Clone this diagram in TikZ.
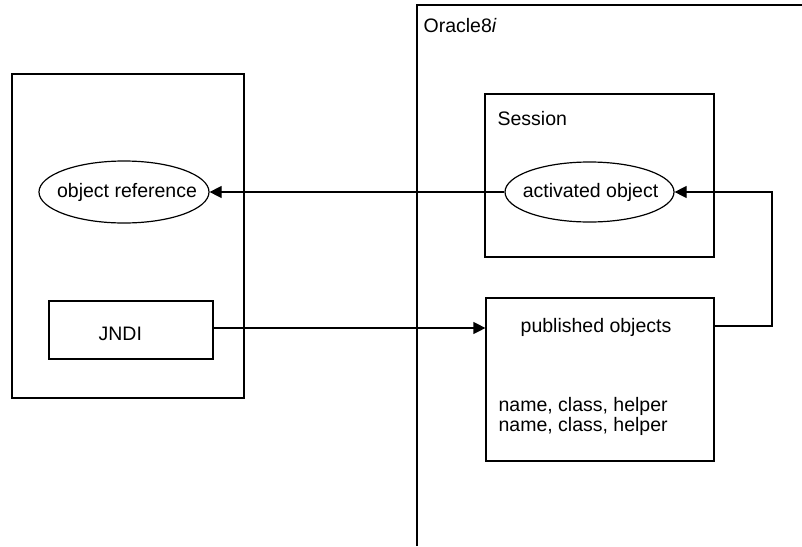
\documentclass[tikz,border=0pt]{standalone}
\usepackage{fontspec}
\setmainfont{Liberation Sans}
\usetikzlibrary{shapes.geometric,arrows.meta}
\begin{document}
\begin{tikzpicture}[x=1pt,y=-1pt,
  line width=1.2pt,
  every node/.style={font=\fontsize{19.5}{20}\selectfont, inner sep=0pt},
  boxx/.style={draw, rectangle},
  ell/.style={draw, ellipse, inner sep=0pt},
  arr/.style={-{Triangle[length=12pt,width=12pt]}}]
\useasboundingbox (0,0) rectangle (802,546);
% Oracle8i container (open on right and bottom)
\coordinate (obl) at (417,546);
\coordinate (otl) at (417,5);
\coordinate (otr) at (802,5);
\draw (obl) -- (otl) -- (otr);
\node[anchor=base west] (olabel) at (423,32) {Oracle8\textit{i}};
% left client box
\node[boxx, minimum width=232pt, minimum height=324pt] (client) at (128,236) {};
\node[ell, minimum width=170pt, minimum height=62pt] (objref) at (124,192) {};
\node at (127,192) {object reference};
\node[boxx, minimum width=164pt, minimum height=58pt] (jndi) at (131,330) {};
\node[anchor=base west] at (98,340) {JNDI};
% session
\node[boxx, minimum width=229pt, minimum height=163pt] (session) at (599.5,175.5) {};
\node[anchor=base west] (slabel) at (497,125) {Session};
\node[ell, minimum width=169pt, minimum height=60pt] (actobj) at (589.5,192) {};
\node at (590.5,192) {activated object};
% published objects
\node[boxx, minimum width=228pt, minimum height=163pt] (pub) at (600,379.5) {};
\node[anchor=base] (ptitle) at (596,332) {published objects};
\node[anchor=base west] (l1) at (498,411) {name, class, helper};
\node[anchor=base west] (l2) at (498,431) {name, class, helper};
% connectors
\draw[arr] (actobj.west) -- (objref.east);
\draw[arr] (jndi.east |- 0,328) -- (pub.west |- 0,328);
\coordinate (c1) at (772,326);
\coordinate (c2) at (772,192);
\draw[arr] (pub.east |- c1) -- (c1) -- (c2) -- (actobj.east);
\end{tikzpicture}
\end{document}
